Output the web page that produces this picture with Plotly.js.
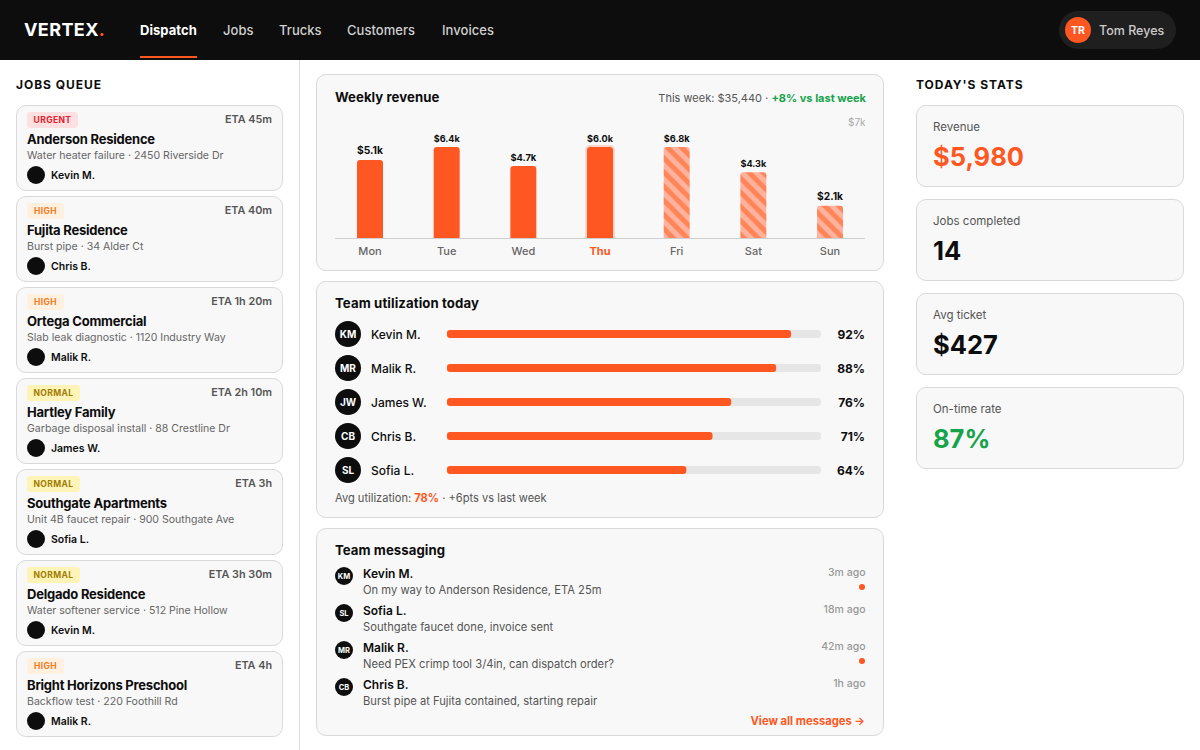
<!DOCTYPE html>
<html><head><meta charset="utf-8">
<script src="https://cdn.plot.ly/plotly-3.0.1.min.js"></script>
<style>
html,body{margin:0;padding:0;width:1200px;height:750px;overflow:hidden;background:#fff;font-family:Inter,sans-serif;color:#0d0d0d}
#app{position:relative;width:1200px;height:750px;overflow:hidden}
.t{position:absolute;white-space:nowrap;line-height:20px;height:20px}
.b{position:absolute;box-sizing:border-box}
.card{background:#f8f8f8;border:1px solid #d9d9d9;border-radius:10px}
.round{border-radius:50%;background:#0d0d0d;color:#fff;display:flex;align-items:center;justify-content:center;font-weight:700}
#rev,#util{position:absolute}
</style></head><body><div id="app"></div>
<script>
const navItems = ["Dispatch","Jobs","Trucks","Customers","Invoices"];
const navX = [140,223,279,347,442];
const jobPriority = ["URGENT","HIGH","HIGH","NORMAL","NORMAL","NORMAL","HIGH"];
const jobEta = ["ETA 45m","ETA 40m","ETA 1h 20m","ETA 2h 10m","ETA 3h","ETA 3h 30m","ETA 4h"];
const jobNames = ["Anderson Residence","Fujita Residence","Ortega Commercial","Hartley Family","Southgate Apartments","Delgado Residence","Bright Horizons Preschool"];
const jobDetails = ["Water heater failure · 2450 Riverside Dr","Burst pipe · 34 Alder Ct","Slab leak diagnostic · 1120 Industry Way","Garbage disposal install · 88 Crestline Dr","Unit 4B faucet repair · 900 Southgate Ave","Water softener service · 512 Pine Hollow","Backflow test · 220 Foothill Rd"];
const jobTechs = ["Kevin M.","Chris B.","Malik R.","James W.","Sofia L.","Kevin M.","Malik R."];
const weekdays = ["Mon","Tue","Wed","Thu","Fri","Sat","Sun"];
const revenueK = [5.1,6.4,4.7,6.0,6.8,4.3,2.1];
const projected = [false,false,false,false,true,true,true];
const utilNames = ["Kevin M.","Malik R.","James W.","Chris B.","Sofia L."];
const utilInitials = ["KM","MR","JW","CB","SL"];
const utilPct = [92,88,76,71,64];
const msgInitials = ["KM","SL","MR","CB"];
const msgNames = ["Kevin M.","Sofia L.","Malik R.","Chris B."];
const msgTexts = ["On my way to Anderson Residence, ETA 25m","Southgate faucet done, invoice sent","Need PEX crimp tool 3/4in, can dispatch order?","Burst pipe at Fujita contained, starting repair"];
const msgTimes = ["3m ago","18m ago","42m ago","1h ago"];
const msgUnread = [true,false,true,false];
const statLabels = ["Revenue","Jobs completed","Avg ticket","On-time rate"];
const statValues = ["$5,980","14","$427","87%"];
const statColors = ["#ff5722","#0d0d0d","#0d0d0d","#16a34a"];
const barCapK = 5.95; // the reference's bars stop growing at this height

const ORANGE = "#ff5722";
const app = document.getElementById("app");
function el(cls, css, html){const d=document.createElement("div");d.className=cls;d.style.cssText=css;if(html!==undefined)d.innerHTML=html;app.appendChild(d);return d;}
function txt(x,yc,s,css,right){const pos=right?`right:${1200-x}px`:`left:${x}px`;return el("t",`${pos};top:${yc-10}px;${css||""}`,s);}
function box(x,y,w,h,css,cls,html){return el("b "+(cls||""),`left:${x}px;top:${y}px;width:${w}px;height:${h}px;${css||""}`,html);}
const HEAD = "font-family:Inter;font-weight:700;";

// header
box(0,0,1200,60,"background:#0d0d0d");
txt(24,30,'VERTEX<span style="color:'+ORANGE+'">.</span>',HEAD+"font-size:18px;color:#fff;letter-spacing:.4px");
navItems.forEach((n,i)=>txt(navX[i],30,n,`font-size:13px;letter-spacing:.05px;font-weight:${i==0?700:500};color:${i==0?"#fff":"#d0d0d0"}`));
box(140,56,57,2,"background:"+ORANGE);
box(1059,11,117,38,"background:#1f1f1f;border-radius:19px");
box(1065,17,26,26,"background:"+ORANGE+";font-size:10.5px","round","TR");
txt(1099,31,"Tom Reyes","font-size:12.5px;font-weight:500;color:#ccc");

// left column
box(299,60,1,690,"background:#dcdcdc");
txt(16,85,"JOBS QUEUE",HEAD+"font-size:12px;letter-spacing:.95px");
const prio={URGENT:["#ffe0e0","#e5202e"],HIGH:["#fff0e0","#f57c20"],NORMAL:["#fff4b8","#a17c00"]};
const prioW={URGENT:51,HIGH:37,NORMAL:53};
jobNames.forEach((n,i)=>{
  const y=105+91*i;
  box(16,y,267,86,"","card");
  const p=jobPriority[i];
  box(27,y+7,prioW[p],16,`background:${prio[p][0]};color:${prio[p][1]};border-radius:3px;font-size:8.5px;font-weight:700;letter-spacing:.4px;display:flex;align-items:center;justify-content:center`,"",p);
  txt(272,y+15,jobEta[i],"font-size:10.8px;font-weight:600;color:#555",true);
  txt(27,y+34,n,"font-size:13px;font-weight:700;letter-spacing:-.22px");
  txt(27,y+50.5,jobDetails[i],"font-size:10.55px;color:#666");
  box(27,y+61,18,18,"","round");
  txt(51,y+70.5,jobTechs[i],"font-size:10.5px;font-weight:600");
});

// revenue card
box(316,74,568,197,"","card");
txt(335,97,"Weekly revenue",HEAD+"font-size:13.2px;letter-spacing:.05px");
txt(866,98,'This week: $35,440 · <span style="color:#16a34a;font-weight:700">+8% vs last week</span>',"font-size:11px;color:#555",true);
const revDiv=box(335,112,530,156,"");revDiv.id="rev";

// utilization card
box(316,281,568,237,"","card");
txt(335,302.5,"Team utilization today",HEAD+"font-size:13.2px;letter-spacing:.1px");
utilNames.forEach((n,i)=>{
  const yc=334+34*i;
  box(335,yc-13,26,26,"font-size:10px","round",utilInitials[i]);
  txt(371,yc+.5,n,"font-size:12px;font-weight:500");
  txt(865,yc+.5,utilPct[i]+"%","font-size:12px;font-weight:700",true);
});
const utilDiv=box(447,317,374,170,"");utilDiv.id="util";
txt(335,498,'Avg utilization: <span style="color:'+ORANGE+';font-weight:700">78%</span> · +6pts vs last week',"font-size:11.1px;color:#555");

// messaging card
box(316,528,568,208,"","card");
txt(335,549.5,"Team messaging",HEAD+"font-size:13.2px;letter-spacing:.05px");
msgNames.forEach((n,i)=>{
  const y=574+37*i;
  box(335,y-7,18,18,"font-size:7.5px","round",msgInitials[i]);
  txt(363,y,n,"font-size:12px;font-weight:600");
  txt(363,y+16,msgTexts[i],"font-size:11.2px;color:#555");
  txt(865.5,y-1.5,msgTimes[i],"font-size:10.5px;font-weight:500;color:#999",true);
  if(msgUnread[i])box(859,y+10,6,6,"border-radius:50%;background:"+ORANGE);
});
txt(865,721,"View all messages →","font-size:11.2px;font-weight:700;color:"+ORANGE,true);

// stats
txt(916,85,"TODAY'S STATS",HEAD+"font-size:12px;letter-spacing:.95px");
statLabels.forEach((l,i)=>{
  const y=105+94*i;
  box(916,y,268,82,"","card");
  txt(933,y+22,l,"font-size:11.5px;color:#555");
  txt(933,y+52,statValues[i],`font-size:25.5px;font-weight:700;color:${statColors[i]}`);
});

// Plotly: weekly revenue
function pick(arr,flag){return arr.filter((_,i)=>projected[i]===flag);}
const drawnK=revenueK.map(v=>Math.min(v,barCapK));
const revLabels=revenueK.map(v=>"$"+v.toFixed(1)+"k");
const labelFont={family:"Inter",size:12,color:"#0d0d0d",weight:700};
const actualDays=pick(weekdays,false);
Plotly.newPlot("rev",[{
  type:"bar",x:actualDays,y:pick(drawnK,false),width:0.339,
  text:pick(revLabels,false),textposition:"outside",cliponaxis:false,textfont:labelFont,
  marker:{color:ORANGE,
    line:{color:actualDays.map(d=>d==="Thu"?"rgba(255,87,34,0.2)":"rgba(0,0,0,0)"),width:actualDays.map(d=>d==="Thu"?4:0)}},
  hoverinfo:"skip"
},{
  type:"bar",x:pick(weekdays,true),y:pick(drawnK,true),width:0.339,
  text:pick(revLabels,true),textposition:"outside",cliponaxis:false,textfont:labelFont,
  marker:{color:"#ffb39e",pattern:{shape:"\\",fgcolor:"#ff8559",bgcolor:"#ffb39e",fgopacity:1,size:10,solidity:0.5,fillmode:"replace"}},
  hoverinfo:"skip"
}],{
  width:530,height:156,margin:{l:0,r:0,t:0,b:30},paper_bgcolor:"rgba(0,0,0,0)",plot_bgcolor:"rgba(0,0,0,0)",
  showlegend:false,font:{family:"Inter"},barcornerradius:3,barmode:"overlay",
  xaxis:{type:"category",categoryorder:"array",categoryarray:weekdays,range:[-0.4565,6.456],tickmode:"array",tickvals:weekdays,
    ticktext:weekdays.map(d=>d==="Thu"?`<span style="color:${ORANGE}"><b>Thu</b></span>`:d),
    tickfont:{family:"Inter",size:11,color:"#666",weight:500},ticks:"outside",ticklen:3,tickcolor:"rgba(0,0,0,0)",showline:true,linecolor:"#cfcfcf",linewidth:1,showgrid:false,zeroline:false,fixedrange:true},
  yaxis:{range:[0,8.235],visible:false,fixedrange:true},
  annotations:[{xref:"paper",yref:"paper",x:1,y:0.929,xanchor:"right",yanchor:"middle",xshift:3,yshift:-1,text:"$7k",showarrow:false,font:{family:"Inter",size:10,color:"#aaa"}}]
},{staticPlot:true,displayModeBar:false});

// Plotly: utilization
Plotly.newPlot("util",[
  {type:"bar",orientation:"h",y:utilNames,x:utilNames.map(()=>100),base:utilNames.map(()=>0),width:0.235,marker:{color:"#e6e6e6",cornerradius:4},hoverinfo:"skip"},
  {type:"bar",orientation:"h",y:utilNames,x:utilPct,base:utilNames.map(()=>0),width:0.235,marker:{color:ORANGE,cornerradius:4},hoverinfo:"skip"}
],{
  width:374,height:170,margin:{l:0,r:0,t:0,b:0},paper_bgcolor:"rgba(0,0,0,0)",plot_bgcolor:"rgba(0,0,0,0)",
  barmode:"overlay",showlegend:false,
  xaxis:{range:[0,100],visible:false,fixedrange:true},
  yaxis:{type:"category",range:[4.5,-0.5],visible:false,fixedrange:true}
},{staticPlot:true,displayModeBar:false});
</script></body></html>
